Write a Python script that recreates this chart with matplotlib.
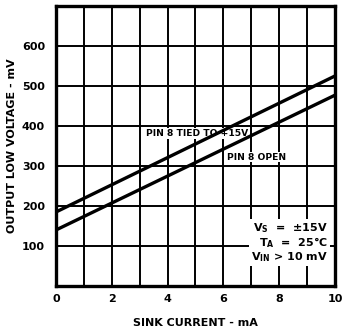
import matplotlib
matplotlib.use("Agg")
import matplotlib.pyplot as plt

# sink current (mA) vs output low voltage (mV)
current = [0, 10]
v_tied = [185, 525]
v_open = [140, 477]

xticks = [0, 2, 4, 6, 8, 10]
yticks = [100, 200, 300, 400, 500, 600]

plt.rcParams['font.family'] = ['Liberation Sans Narrow', 'DejaVu Sans']
plt.rcParams['font.weight'] = 'bold'

fig = plt.figure(figsize=(3.47, 3.31), dpi=100)
ax = fig.add_axes([0.1614, 0.136, 0.804, 0.846])

ax.set_xlim(0, 10)
ax.set_ylim(0, 700)
for xv in range(1, 10):
    ax.axvline(xv, color='black', lw=1.4, zorder=1)
for yv in range(100, 700, 100):
    ax.axhline(yv, color='black', lw=1.4, zorder=1)

# text boxes sit under the curves so the lines stay unbroken
ax.text(5.05, 381, 'PIN 8 TIED TO +15V', ha='center', va='center', fontsize=6.6,
        fontweight='bold', zorder=2,
        bbox=dict(facecolor='white', edgecolor='none', pad=0.5))
ax.text(7.2, 322, 'PIN 8 OPEN', ha='center', va='center', fontsize=6.6,
        fontweight='bold', zorder=2,
        bbox=dict(facecolor='white', edgecolor='none', pad=0.5))

ax.plot(current, v_tied, color='black', lw=2.4, zorder=3)
ax.plot(current, v_open, color='black', lw=2.4, zorder=3)

ax.text(9.75, 55, '$\\mathbf{V_S}$  =  ±15V\n$\\mathbf{T_A}$  =  25°C\n$\\mathbf{V_{IN}}$ > 10 mV',
        ha='right', va='bottom', fontsize=8, fontweight='bold', zorder=4,
        linespacing=1.0,
        bbox=dict(facecolor='white', edgecolor='none', pad=1.5))

ax.set_xticks(xticks)
ax.set_yticks(yticks)
ax.tick_params(axis='x', length=0, labelsize=8, pad=6)
ax.tick_params(axis='y', length=0, labelsize=8, pad=8)
for lab in ax.get_xticklabels() + ax.get_yticklabels():
    lab.set_fontweight('bold')

for s in ax.spines.values():
    s.set_linewidth(2.4)
    s.set_zorder(5)

ax.set_xlabel('SINK CURRENT - mA', fontsize=8, fontweight='bold')
ax.set_ylabel('OUTPUT LOW VOLTAGE - mV', fontsize=8, fontweight='bold')
ax.xaxis.set_label_coords(0.5, -0.115)
ax.yaxis.set_label_coords(-0.14, 0.5)

fig.savefig('out.png', dpi=100)
